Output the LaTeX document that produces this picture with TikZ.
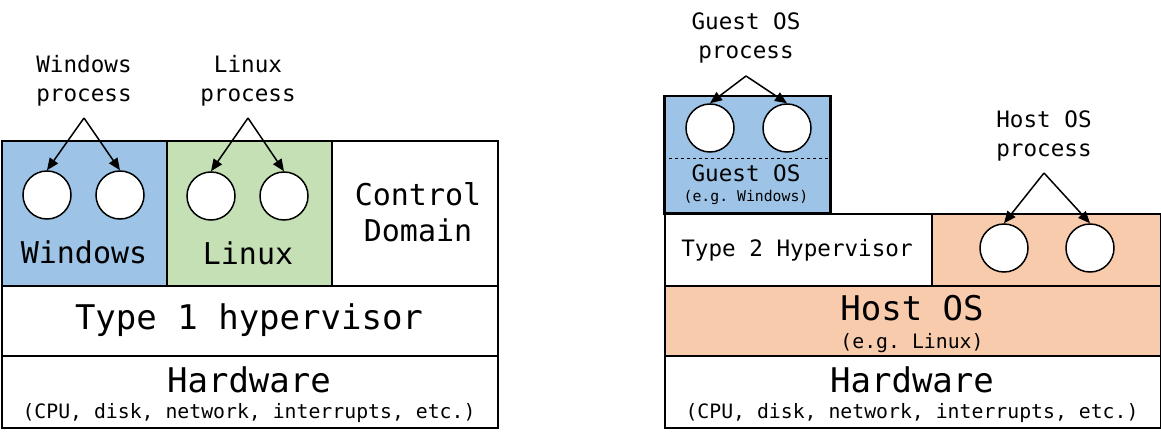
\documentclass[tikz,border=0pt]{standalone}
\usepackage{fontspec}
\setmonofont{DejaVu Sans Mono}
\usetikzlibrary{arrows.meta}
\definecolor{winblue}{HTML}{9DC3E6}
\definecolor{lingreen}{HTML}{C5E0B4}
\definecolor{hostorange}{HTML}{F8CBAD}
\newcommand{\fsA}{\fontsize{22.6}{29}\selectfont}
\newcommand{\fsB}{\fontsize{30}{36}\selectfont}
\newcommand{\fsC}{\fontsize{34}{40}\selectfont}
\newcommand{\fsD}{\fontsize{19.8}{24}\selectfont}
\newcommand{\fsE}{\fontsize{14.8}{18}\selectfont}
\begin{document}
\begin{tikzpicture}[x=1pt,y=-1pt,font=\ttfamily,
  box/.style={draw, line width=2pt, rectangle, inner sep=0pt, anchor=north west},
  proc/.style={circle, draw, fill=white, line width=1.5pt, minimum size=48pt, inner sep=0pt},
  lbl/.style={align=center, inner sep=0pt},
  arr/.style={-{Triangle[length=12pt,width=10pt]}, line width=1.5pt}]
\useasboundingbox (0,0) rectangle (1161,441);
% ---------- left: type 1 ----------
\node[box, fill=winblue, minimum width=165pt, minimum height=145pt] (win) at (1,140) {};
\node[box, fill=lingreen, minimum width=165pt, minimum height=145pt] (lin) at (166,140) {};
\node[box, fill=white, minimum width=166pt, minimum height=145pt] (ctl) at (331,140) {};
\node[box, fill=white, minimum width=496pt, minimum height=70pt] (hv1) at (1,285) {};
\node[box, fill=white, minimum width=496pt, minimum height=72pt] (hw1) at (1,355) {};
\node[lbl, font=\ttfamily\fsB] (wint) at (84,252) {Windows};
\node[lbl, font=\ttfamily\fsB] (lint) at (248,253) {Linux};
\node[lbl, font=\ttfamily\fsB] (ctlt) at (418,212) {Control\\Domain};
\node[lbl, font=\ttfamily\fsC] (hv1t) at (249,320) {Type 1 hypervisor};
\node[lbl, font=\ttfamily\fsC] (hw1t) at (249,380) {Hardware};
\node[lbl, font=\ttfamily\fsD] (hw1s) at (249,413) {(CPU, disk, network, interrupts, etc.)};
\node[proc] (w1) at (47,195) {};
\node[proc] (w2) at (120,195) {};
\node[proc] (l1) at (211,196) {};
\node[proc] (l2) at (284,196) {};
\node[lbl, font=\ttfamily\fsA] (wpl) at (84,81) {Windows\\process};
\node[lbl, font=\ttfamily\fsA] (lpl) at (248,81) {Linux\\process};
\coordinate (wap) at (84,118);
\coordinate (lap) at (248,118);
\draw[arr] (wap) -- (w1.north);
\draw[arr] (wap) -- (w2.north);
\draw[arr] (lap) -- (l1.north);
\draw[arr] (lap) -- (l2.north);
% ---------- right: type 2 ----------
\node[box, fill=winblue, line width=2.5pt, minimum width=166pt, minimum height=117pt] (guest) at (663,95) {};
\coordinate (gd) at (0,158);
\draw[dashed, line width=0.8pt] (guest.west |- gd) -- (guest.east |- gd);
\node[lbl, font=\ttfamily\fsA] (guestt) at (746,173) {Guest OS};
\node[lbl, font=\ttfamily\fsE] (guests) at (746,197) {(e.g. Windows)};
\node[proc] (g1) at (710,128) {};
\node[proc] (g2) at (787,128) {};
\node[lbl, font=\ttfamily\fsA] (gpl) at (746,38) {Guest OS\\process};
\coordinate (gap) at (746,76);
\draw[arr] (gap) -- (g1.north);
\draw[arr] (gap) -- (g2.north);
\node[box, fill=white, minimum width=267pt, minimum height=72pt] (hv2) at (664,213) {};
\node[box, fill=hostorange, minimum width=229pt, minimum height=72pt] (hp) at (931,213) {};
\node[lbl, font=\ttfamily\fsA] (hv2t) at (797,250) {Type 2 Hypervisor};
\node[proc] (h1) at (1004,248) {};
\node[proc] (h2) at (1090,248) {};
\node[lbl, font=\ttfamily\fsA] (hpl) at (1044,136) {Host OS\\process};
\coordinate (hap) at (1044,173);
\draw[arr] (hap) -- (h1.north);
\draw[arr] (hap) -- (h2.north);
\node[box, fill=hostorange, minimum width=496pt, minimum height=70pt] (host) at (664,285) {};
\node[lbl, font=\ttfamily\fsC] (hostt) at (912,308) {Host OS};
\node[lbl, font=\ttfamily\fsD] (hosts) at (912,343) {(e.g. Linux)};
\node[box, fill=white, minimum width=496pt, minimum height=72pt] (hw2) at (664,355) {};
\node[lbl, font=\ttfamily\fsC] (hw2t) at (912,380) {Hardware};
\node[lbl, font=\ttfamily\fsD] (hw2s) at (912,413) {(CPU, disk, network, interrupts, etc.)};
\end{tikzpicture}
\end{document}
